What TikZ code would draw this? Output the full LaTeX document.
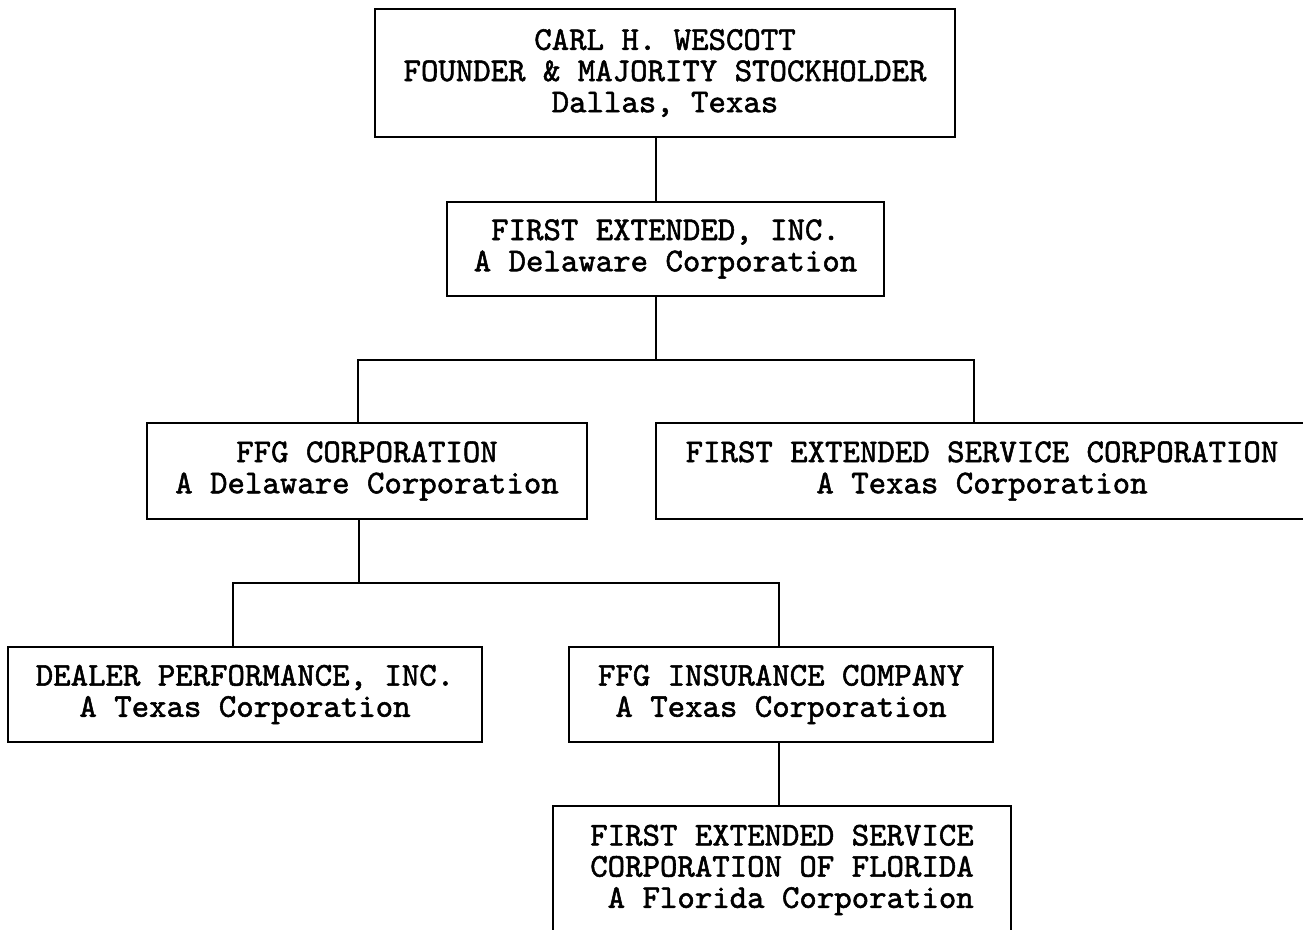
\documentclass[tikz,border=0pt]{standalone}
\usepackage{fontspec}
\newfontfamily\typewr[Extension=.otf, FakeBold=1.6]{lmmono10-regular}
\usepackage{tikz}

\begin{document}
\begin{tikzpicture}[x=0.5pt, y=-0.5pt,
    orgbox/.style={draw, rectangle, line width=1pt, align=center, inner sep=0pt,
                   font=\typewr\fontsize{16.6}{15.6}\selectfont},
    link/.style={line width=1pt}]
    \clip (0,0) rectangle (1303,930);
    \fill[white] (0,0) rectangle (1303,930);

    % Nodes
    \node[orgbox, minimum width=290pt, minimum height=64pt] (wescott) at (665,73)
        {CARL H. WESCOTT\\FOUNDER \& MAJORITY STOCKHOLDER\\Dallas, Texas};
    \node[orgbox, minimum width=218.5pt, minimum height=47pt] (fei) at (665.5,249)
        {FIRST EXTENDED, INC.\\A Delaware Corporation};
    \node[orgbox, minimum width=220pt, minimum height=48pt] (ffg) at (367,471)
        {FFG CORPORATION\\A Delaware Corporation};
    \node[orgbox, minimum width=326pt, minimum height=48pt] (fesc) at (982,471)
        {FIRST EXTENDED SERVICE CORPORATION\\A Texas Corporation};
    \node[orgbox, minimum width=237pt, minimum height=47.5pt] (dealer) at (245,694.5)
        {DEALER PERFORMANCE, INC.\\A Texas Corporation};
    \node[orgbox, minimum width=212pt, minimum height=47.5pt] (ffgins) at (781,694.5)
        {FFG INSURANCE COMPANY\\A Texas Corporation};
    \node[orgbox, align=left, minimum width=229pt, minimum height=64pt] (florida) at (782,870)
        {FIRST EXTENDED SERVICE\\CORPORATION OF FLORIDA\\\ A Florida Corporation};

    % Junction points of the buses
    \coordinate (j1) at (656,360);
    \coordinate (bus1l) at (358,360);
    \coordinate (bus1r) at (974,360);
    \coordinate (j2) at (359,583);
    \coordinate (bus2l) at (233,583);
    \coordinate (bus2r) at (779,583);

    % Edges
    \draw[link] (wescott.south -| j1) -- (fei.north -| j1);
    \draw[link] (fei.south -| j1) -- (j1);
    \draw[link] (ffg.north -| bus1l) -- (bus1l) -- (bus1r) -- (fesc.north -| bus1r);
    \draw[link] (ffg.south -| j2) -- (j2);
    \draw[link] (dealer.north -| bus2l) -- (bus2l) -- (bus2r) -- (ffgins.north -| bus2r);
    \draw[link] (ffgins.south -| bus2r) -- (florida.north -| bus2r);
\end{tikzpicture}
\end{document}
